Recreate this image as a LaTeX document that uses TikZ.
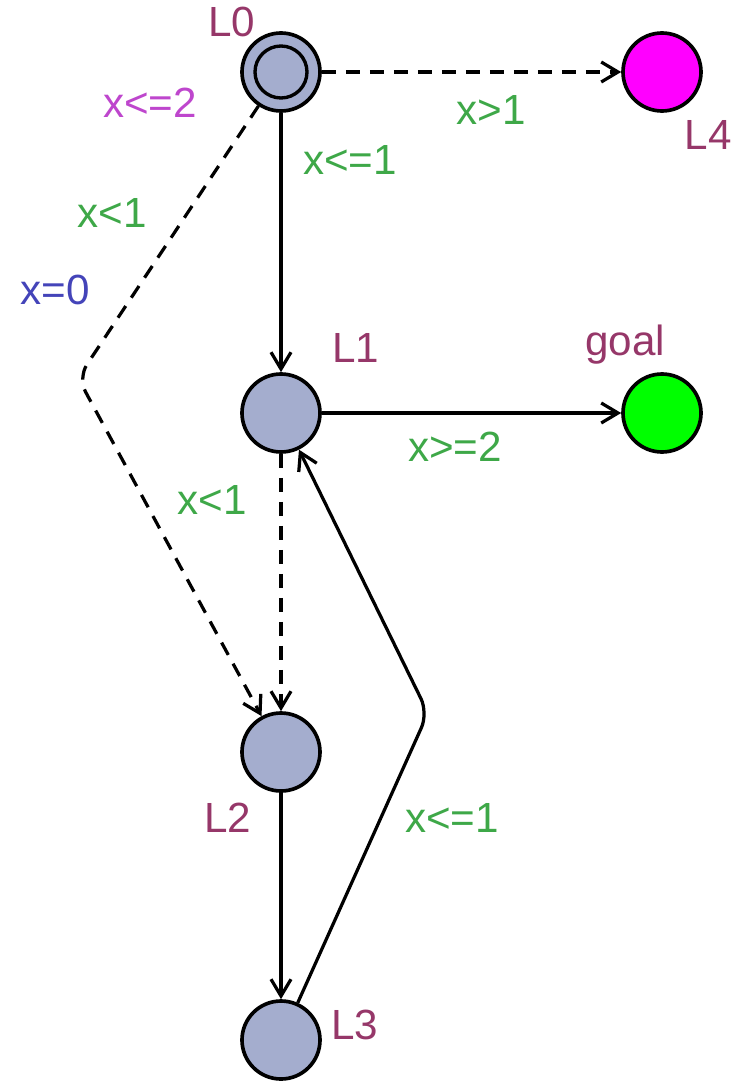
\documentclass[tikz,border=0pt]{standalone}
\usepackage{fontspec}
\setmainfont{Liberation Sans}
\usetikzlibrary{arrows.meta,positioning}
\definecolor{locfill}{RGB}{164,173,206}
\definecolor{namecol}{RGB}{150,55,105}
\definecolor{guardcol}{RGB}{62,168,72}
\definecolor{invcol}{RGB}{190,70,205}
\definecolor{assigncol}{RGB}{68,68,185}
\definecolor{errfill}{RGB}{255,0,255}
\definecolor{goalfill}{RGB}{0,255,0}
\tikzset{
  location/.style={
    circle,
    draw=black,
    line width=2.6pt,
    fill=locfill,
    minimum size=1.95cm,
    inner sep=0pt
  },
  locname/.style={
    text=namecol,
    font=\fontsize{30}{34}\selectfont,
    inner sep=0pt
  },
  guardlbl/.style={
    text=guardcol,
    font=\fontsize{30}{34}\selectfont,
    inner sep=0pt
  },
  invlbl/.style={
    text=invcol,
    font=\fontsize{30}{34}\selectfont,
    inner sep=0pt
  },
  assignlbl/.style={
    text=assigncol,
    font=\fontsize{30}{34}\selectfont,
    inner sep=0pt
  },
  edgearrow/.style={
    -{Straight Barb[length=4.2mm,width=5mm]},
    line width=2.3pt
  },
  dashedarrow/.style={
    edgearrow,
    dash pattern=on 3.5mm off 2.5mm
  }
}

\begin{document}
\begin{tikzpicture}[on grid]
  \useasboundingbox (0,0) rectangle (18.375,-27.05);

  % locations
  \node[location] (L0) at (7.025,-1.8) {};
  \draw[line width=2.4pt] (L0) circle (0.65cm);
  \node[location, fill=errfill, right=9.525cm of L0] (L4) {};
  \node[location, below=8.525cm of L0] (L1) {};
  \node[location, fill=goalfill, right=9.525cm of L1] (goal) {};
  \node[location, below=8.475cm of L1] (L2) {};
  \node[location, below=7.2cm of L2] (L3) {};

  % names
  \node[locname] (nL0) at (5.8,-0.55) {L0};
  \node[locname] (nL4) at (17.7,-3.375) {L4};
  \node[locname] (nL1) at (8.9,-8.7) {L1};
  \node[locname] (ngoal) at (15.625,-8.625) {goal};
  \node[locname] (nL2) at (5.7,-20.45) {L2};
  \node[locname] (nL3) at (8.875,-25.625) {L3};

  % bends
  \coordinate (bendA) at (1.95,-9.45);
  \coordinate (bendB) at (10.7,-17.825);

  % edges
  \draw[dashedarrow] (L0) -- (L4);
  \draw[edgearrow] (L0) -- (L1);
  \draw[dashedarrow, rounded corners=0.4cm] (L0) -- (bendA) -- (L2);
  \draw[edgearrow] (L1) -- (goal);
  \draw[dashedarrow] (L1) -- (L2);
  \draw[edgearrow] (L2) -- (L3);
  \draw[edgearrow, rounded corners=0.4cm] (L3) -- (bendB) -- (L1);

  % guards, invariant, update
  \node[invlbl] (inv0) at (3.75,-2.575) {x<=2};
  \node[guardlbl] (g04) at (12.275,-2.75) {x>1};
  \node[guardlbl] (g01) at (8.75,-4.0) {x<=1};
  \node[guardlbl] (g02) at (2.8,-5.325) {x<1};
  \node[assignlbl] (a02) at (1.375,-7.25) {x=0};
  \node[guardlbl] (g1g) at (11.375,-11.175) {x>=2};
  \node[guardlbl] (g12) at (5.3,-12.5) {x<1};
  \node[guardlbl] (g31) at (11.3,-20.45) {x<=1};
\end{tikzpicture}
\end{document}
